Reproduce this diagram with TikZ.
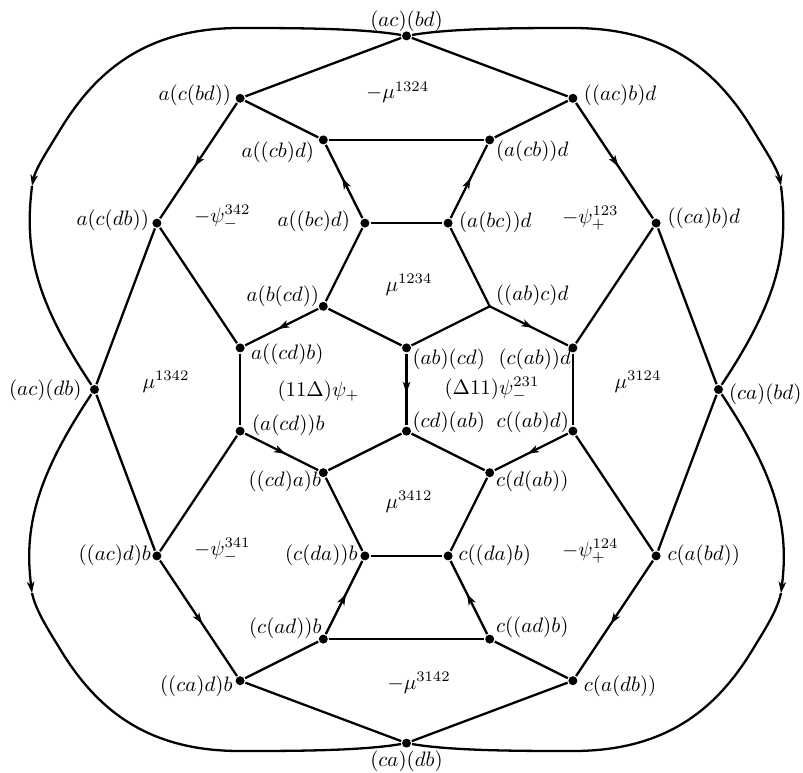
\documentclass[tikz,border=0pt]{standalone}
\usetikzlibrary{arrows.meta,decorations.markings}
\tikzset{
  vdot/.style={circle,fill=black,inner sep=0pt,minimum size=4.3pt},
  lab/.style={inner sep=0pt,outer sep=0pt},
  endtip/.style={-{Stealth[length=5.4pt,width=3.6pt,inset=1.5pt]}},
  midarrow/.style={postaction={decorate,decoration={markings,mark=at position 0.55 with {\arrow{Stealth[length=5.4pt,width=3.6pt,inset=1.5pt]}}}}},
}
\newcommand\vlab[6]{\node[lab,anchor=#3] (#1) at ([shift={({(#4)/41.6},{-(#5)/41.6})}]#2) {$#6$};}
\newcommand\flab[4]{\node[lab,anchor=west] (#1) at ({(#2-406.5)/41.6},{(389.5-#3)/41.6}) {$#4$};}
\begin{document}
\begin{tikzpicture}[x=0.7cm,y=0.7cm,line width=1.1pt]
\useasboundingbox (-9.772,-9.195) rectangle (9.531,9.363);
% vertices
\node[vdot] (acbd) at (0,8.5) {};
\node[vdot] (cadb) at (0,-8.5) {};
\node[vdot] (acdb) at (-7.5,0) {};
\node[vdot] (cabd) at (7.5,0) {};
\node[vdot] (n1) at (-4,7) {};
\node[vdot] (n2) at (4,7) {};
\node[vdot] (n3) at (-2,6) {};
\node[vdot] (n4) at (2,6) {};
\node[vdot] (n5) at (-6,4) {};
\node[vdot] (n6) at (6,4) {};
\node[vdot] (n7) at (-1,4) {};
\node[vdot] (n8) at (1,4) {};
\node[vdot] (n9) at (-2,2) {};
\coordinate (n10) at (2,2);
\node[vdot] (n11) at (-4,1) {};
\node[vdot] (n12) at (0,1) {};
\node[vdot] (n13) at (4,1) {};
\node[vdot] (n14) at (-4,-1) {};
\node[vdot] (n15) at (0,-1) {};
\node[vdot] (n16) at (4,-1) {};
\node[vdot] (n17) at (-2,-2) {};
\node[vdot] (n18) at (2,-2) {};
\node[vdot] (n19) at (-6,-4) {};
\node[vdot] (n20) at (-1,-4) {};
\node[vdot] (n21) at (1,-4) {};
\node[vdot] (n22) at (6,-4) {};
\node[vdot] (n23) at (-2,-6) {};
\node[vdot] (n24) at (2,-6) {};
\node[vdot] (n25) at (-4,-7) {};
\node[vdot] (n26) at (4,-7) {};
\coordinate (tl) at (-9.002,4.892);
\coordinate (tr) at (9.002,4.892);
\coordinate (bl) at (-9.002,-4.892);
\coordinate (br) at (9.002,-4.892);
% plain edges
\draw (acbd) -- (n1);
\draw (acbd) -- (n2);
\draw (n1) -- (n3);
\draw (n2) -- (n4);
\draw (n3) -- (n4);
\draw (n7) -- (n8);
\draw (n7) -- (n9);
\draw (n8) -- (n10);
\draw (n9) -- (n12);
\draw (n10) -- (n12);
\draw (n11) -- (n14);
\draw (n13) -- (n16);
\draw (n15) -- (n17);
\draw (n15) -- (n18);
\draw (n17) -- (n20);
\draw (n18) -- (n21);
\draw (n20) -- (n21);
\draw (n23) -- (n24);
\draw (n23) -- (n25);
\draw (n24) -- (n26);
\draw (n25) -- (cadb);
\draw (n26) -- (cadb);
\draw (n5) -- (n11);
\draw (n5) -- (acdb);
\draw (n6) -- (n13);
\draw (n6) -- (cabd);
\draw (acdb) -- (n19);
\draw (n14) -- (n19);
\draw (n16) -- (n22);
\draw (cabd) -- (n22);
% arrowed edges
\draw[midarrow] (n1) -- (n5);
\draw[midarrow] (n2) -- (n6);
\draw[midarrow] (n7) -- (n3);
\draw[midarrow] (n8) -- (n4);
\draw[midarrow] (n9) -- (n11);
\draw[midarrow] (n10) -- (n13);
\draw[midarrow] (n12) -- (n15);
\draw[midarrow] (n14) -- (n17);
\draw[midarrow] (n16) -- (n18);
\draw[midarrow] (n23) -- (n20);
\draw[midarrow] (n24) -- (n21);
\draw[midarrow] (n19) -- (n25);
\draw[midarrow] (n22) -- (n26);
% outer curves
\draw[endtip] (acbd) .. controls (-1.118,8.690) and (-2.800,8.690) .. (-4.002,8.690) .. controls (-6.166,8.690) and (-7.416,7.752) .. (-8.329,6.238) .. controls (-8.577,5.827) and (-8.918,5.315) .. (tl);
\draw (tl) .. controls (-9.195,3.353) and (-8.930,2.151) .. (acdb);
\draw[endtip] (acbd) .. controls (1.118,8.690) and (2.800,8.690) .. (4.002,8.690) .. controls (6.166,8.690) and (7.416,7.752) .. (8.329,6.238) .. controls (8.577,5.827) and (8.918,5.315) .. (tr);
\draw (tr) .. controls (9.195,3.353) and (8.930,2.151) .. (cabd);
\draw[endtip] (acdb) .. controls (-8.930,-2.151) and (-9.195,-3.353) .. (bl);
\draw (bl) .. controls (-8.918,-5.315) and (-8.577,-5.827) .. (-8.329,-6.238) .. controls (-7.416,-7.752) and (-6.166,-8.690) .. (-4.002,-8.690) .. controls (-2.800,-8.690) and (-1.118,-8.690) .. (cadb);
\draw[endtip] (cabd) .. controls (8.930,-2.151) and (9.195,-3.353) .. (br);
\draw (br) .. controls (8.918,-5.315) and (8.577,-5.827) .. (8.329,-6.238) .. controls (7.416,-7.752) and (6.166,-8.690) .. (4.002,-8.690) .. controls (2.800,-8.690) and (1.118,-8.690) .. (cadb);
% vertex labels
\vlab{l0}{acbd}{center}{0}{-14.5}{(ac)(bd)}
\vlab{l00}{cadb}{center}{0}{18.4}{(ca)(db)}
\vlab{lL}{acdb}{east}{-13}{0.5}{(ac)(db)}
\vlab{lR}{cabd}{west}{10.5}{5}{(ca)(bd)}
\vlab{l1}{n1}{east}{-9}{-3}{a(c(bd))}
\vlab{l2}{n2}{west}{11}{-3}{((ac)b)d}
\vlab{l3}{n3}{east}{-9.3}{12.6}{a((cb)d)}
\vlab{l4}{n4}{west}{6.3}{11}{(a(cb))d}
\vlab{l5}{n5}{east}{-8}{-3}{a(c(db))}
\vlab{l6}{n6}{west}{11.4}{-4.6}{((ca)b)d}
\vlab{l7}{n7}{east}{-15}{-1.6}{a((bc)d)}
\vlab{l8}{n8}{west}{11}{-0.6}{(a(bc))d}
\vlab{l9}{n9}{east}{-4.3}{-9.8}{a(b(cd))}
\vlab{l10}{n10}{west}{6.3}{-10.8}{((ab)c)d}
\vlab{l11}{n11}{west}{11}{6.6}{a((cd)b)}
\vlab{l12}{n12}{west}{6}{11.6}{(ab)(cd)}
\vlab{l13}{n13}{east}{-2}{11.6}{(c(ab))d}
\vlab{l14}{n14}{west}{12}{-5.6}{(a(cd))b}
\vlab{l15}{n15}{west}{6}{-8.6}{(cd)(ab)}
\vlab{l16}{n16}{east}{-4}{-8.6}{c((ab)d)}
\vlab{l17}{n17}{east}{-2.3}{8.8}{((cd)a)b}
\vlab{l18}{n18}{west}{6.3}{8.8}{c(d(ab))}
\vlab{l19}{n19}{east}{-6}{-1}{((ac)d)b}
\vlab{l20}{n20}{east}{-7.4}{-1}{(c(da))b}
\vlab{l21}{n21}{west}{10.4}{-1}{c((da)b)}
\vlab{l22}{n22}{west}{11.4}{-1}{c(a(bd))}
\vlab{l23}{n23}{east}{-1.8}{-10.6}{(c(ad))b}
\vlab{l24}{n24}{west}{6.3}{-11.6}{c((ad)b)}
\vlab{l25}{n25}{east}{-7.6}{5.8}{((ca)d)b}
\vlab{l26}{n26}{west}{11}{5.8}{c(a(db))}
% face labels
\flab{f1}{366}{92.5}{-\mu^{1324}}
\flab{f2}{194}{217.5}{-\psi_-^{342}}
\flab{f3}{562}{218.5}{-\psi_+^{123}}
\flab{f4}{385.5}{285}{\mu^{1234}}
\flab{f5}{142.5}{382}{\mu^{1342}}
\flab{f6}{277.5}{391}{(11\Delta)\psi_+}
\flab{f7}{444.5}{389}{(\Delta11)\psi_-^{231}}
\flab{f8}{614.5}{382}{\mu^{3124}}
\flab{f9}{385.5}{502}{\mu^{3412}}
\flab{f10}{194}{550}{-\psi_-^{341}}
\flab{f11}{562}{551}{-\psi_+^{124}}
\flab{f12}{387.5}{683}{-\mu^{3142}}
\end{tikzpicture}
\end{document}
